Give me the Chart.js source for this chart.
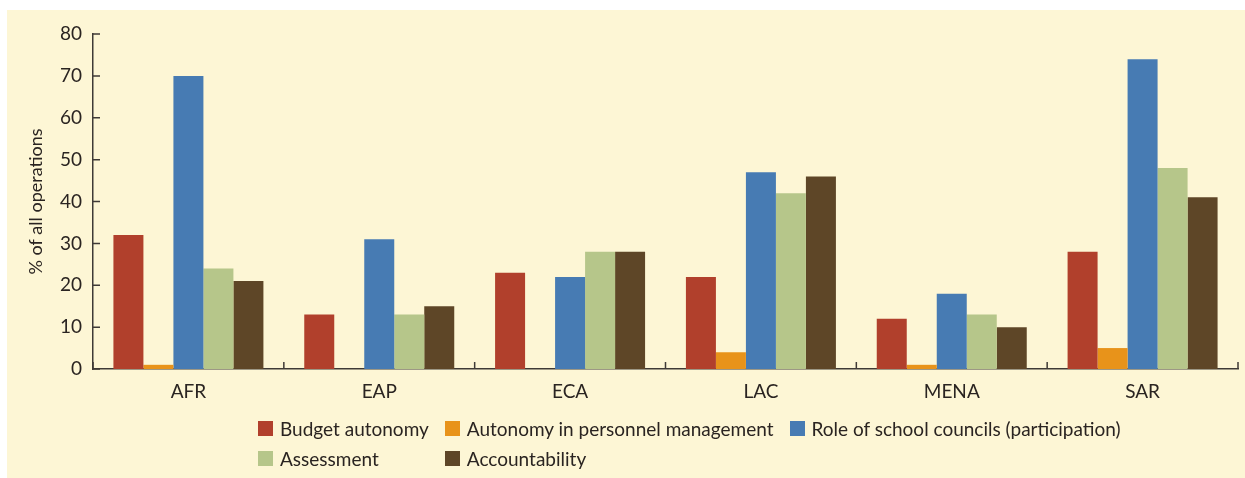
<!DOCTYPE html>
<html>
<head>
<meta charset="utf-8">
<script src="https://cdn.jsdelivr.net/npm/chart.js@4/dist/chart.umd.min.js"></script>
<style>
    html, body { margin: 0; padding: 0; background: #ffffff; }
    body { width: 1245px; height: 478px; position: relative; overflow: hidden; font-family: 'Lato', sans-serif; }
    #panel { position: absolute; left: 7px; top: 10px; width: 1238px; height: 468px; background: #fdf6d5; }
    #chart-wrap { position: absolute; left: 0; top: 0; width: 1238px; height: 468px; }
    #legend {
        position: absolute; left: 251px; top: 403px;
        display: grid; grid-template-columns: auto auto auto;
        column-gap: 16px; row-gap: 0;
        color: #2a2421; font-size: 19px;
    }
    .item { display: flex; align-items: center; height: 30px; white-space: nowrap; }
    .box { width: 15px; height: 15px; margin-right: 7px; flex: none; }
</style>
</head>
<body>
<div id="panel">
    <div id="chart-wrap"><canvas id="chart"></canvas></div>
    <div id="legend"></div>
</div>
<script>
// Regions along the x axis
const regions = ['AFR', 'EAP', 'ECA', 'LAC', 'MENA', 'SAR'];

// Share of operations (%) per reform type
const budgetAutonomy = [32, 13, 23, 22, 12, 28];
const personnelAutonomy = [1, 0, 0, 4, 1, 5];
const schoolCouncils = [70, 31, 22, 47, 18, 74];
const assessment = [24, 13, 28, 42, 13, 48];
const accountability = [21, 15, 28, 46, 10, 41];

const yTicks = [0, 10, 20, 30, 40, 50, 60, 70, 80];

const AXIS = '#3f3a36';
const TEXT = '#2a2421';

const series = [
    { label: 'Budget autonomy', data: budgetAutonomy, color: '#b1402c' },
    { label: 'Autonomy in personnel management', data: personnelAutonomy, color: '#e8931a' },
    { label: 'Role of school councils (participation)', data: schoolCouncils, color: '#477bb3' },
    { label: 'Assessment', data: assessment, color: '#b6c68a' },
    { label: 'Accountability', data: accountability, color: '#5e4627' },
];

// Ticks in the source point into the plot, so draw them ourselves
const innerTicks = {
    id: 'innerTicks',
    afterDatasetsDraw(chart) {
        const { ctx, chartArea, scales: { x, y } } = chart;
        ctx.save();
        ctx.strokeStyle = AXIS;
        ctx.lineWidth = 1.5;
        ctx.beginPath();
        y.ticks.forEach((t, i) => {
            const py = y.getPixelForTick(i);
            ctx.moveTo(chartArea.left, py);
            ctx.lineTo(chartArea.left + 7, py);
        });
        for (let i = 0; i <= regions.length; i++) {
            const px = x.left + x.width * i / regions.length;
            ctx.moveTo(px, chartArea.bottom);
            ctx.lineTo(px, chartArea.bottom - 7);
        }
        ctx.stroke();
        ctx.restore();
    }
};

new Chart(document.getElementById('chart'), {
    type: 'bar',
    data: {
        labels: regions,
        datasets: series.map(s => ({
            label: s.label,
            data: s.data,
            backgroundColor: s.color,
            borderWidth: 0,
            categoryPercentage: 0.786,
            barPercentage: 1.0,
        }))
    },
    options: {
        responsive: true,
        maintainAspectRatio: false,
        animation: false,
        layout: { padding: { left: 0, right: 7, top: 24, bottom: 0 } },
        plugins: { legend: { display: false }, tooltip: { enabled: false } },
        scales: {
            x: {
                grid: { display: false, drawTicks: false },
                border: { display: true, color: AXIS, width: 1.5 },
                ticks: { color: TEXT, padding: 11, font: { family: 'Lato', size: 19 } },
                afterFit: scale => { scale.height = 109; },
            },
            y: {
                min: 0,
                max: 80,
                afterBuildTicks: scale => { scale.ticks = yTicks.map(v => ({ value: v })); },
                grid: { display: false, drawTicks: false },
                border: { display: true, color: AXIS, width: 1.5 },
                ticks: { color: TEXT, padding: 11, font: { family: 'Lato', size: 19 } },
                title: {
                    display: true,
                    text: '% of all operations',
                    color: TEXT,
                    font: { family: 'Lato', size: 18 },
                    padding: { top: 18, bottom: 0 },
                },
                afterFit: scale => { scale.width = 86; },
            }
        }
    },
    plugins: [innerTicks]
});

// Legend laid out as a three-column grid, like the source
const legend = document.getElementById('legend');
series.forEach(s => {
    const item = document.createElement('div');
    item.className = 'item';
    item.innerHTML = `<span class="box" style="background:${s.color}"></span><span>${s.label}</span>`;
    legend.appendChild(item);
});
</script>
</body>
</html>
